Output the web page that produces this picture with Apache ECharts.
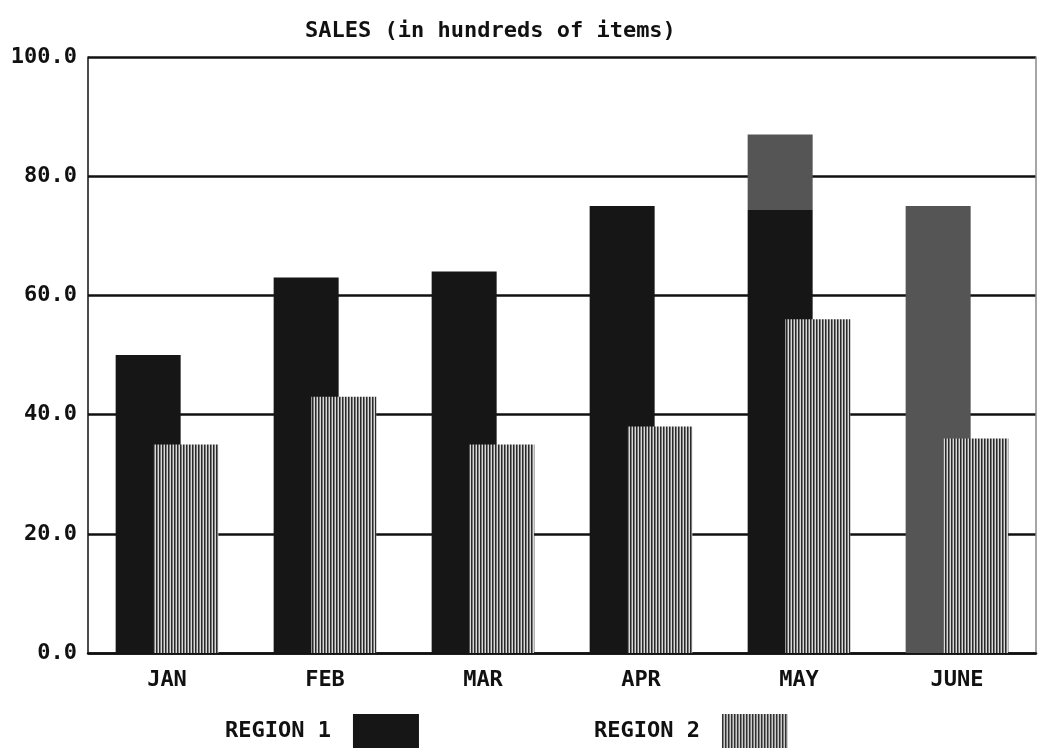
<!DOCTYPE html>
<html>
<head>
<meta charset="utf-8">
<script src="https://cdn.jsdelivr.net/npm/echarts@6/dist/echarts.min.js"></script>
<style>
html,body{margin:0;padding:0;background:#fff;}
#c{width:1044px;height:753px;}
</style>
</head>
<body>
<div id="c"></div>
<script>
const categories = ['JAN', 'FEB', 'MAR', 'APR', 'MAY', 'JUNE'];
const region1 = [50, 63, 64, 75, 87, 75];
const region2 = [35, 43, 35, 38, 56, 36];
const seriesNames = ['REGION 1', 'REGION 2'];
const titleText = 'SALES (in hundreds of items)';

const FONT = '"DejaVu Sans Mono", "Liberation Mono", monospace';
const BLACK = '#161616';
const GRAY = '#555555';

// vertical stripe pattern for region 2
const pat = document.createElement('canvas');
pat.width = 3; pat.height = 8;
const pctx = pat.getContext('2d');
pctx.fillStyle = '#d8d8d8'; pctx.fillRect(0, 0, 3, 8);
pctx.fillStyle = '#2a2a2a'; pctx.fillRect(0, 0, 1, 8);
pctx.fillStyle = '#7a7a7a'; pctx.fillRect(1, 0, 1, 8);

const mayGradient = {
  type: 'linear', x: 0, y: 0, x2: 0, y2: 1,
  colorStops: [
    {offset: 0, color: GRAY}, {offset: 0.146, color: GRAY},
    {offset: 0.146, color: BLACK}, {offset: 1, color: BLACK}
  ]
};

const r1Data = region1.map((v, i) => {
  if (categories[i] === 'MAY') return {value: v, itemStyle: {color: mayGradient}};
  if (categories[i] === 'JUNE') return {value: v, itemStyle: {color: GRAY}};
  return v;
});

const chart = echarts.init(document.getElementById('c'), null, {renderer: 'canvas'});
chart.setOption({
  animation: false,
  backgroundColor: '#ffffff',
  title: {
    text: titleText,
    left: 300, top: 15,
    textStyle: {fontFamily: FONT, fontSize: 22, fontWeight: 'bold', color: '#111'}
  },
  legend: {
    bottom: 0, left: 220,
    itemGap: 175,
    itemWidth: 66, itemHeight: 34,
    align: 'right',
    icon: 'rect',
    textStyle: {fontFamily: FONT, fontSize: 22, fontWeight: 'bold', color: '#111', padding: [0, 17, 0, 0]},
    data: seriesNames
  },
  grid: {left: 88, right: 8, top: 57, bottom: 100},
  xAxis: {
    type: 'category',
    data: categories,
    axisLine: {show: true, lineStyle: {color: '#111', width: 2.5}},
    axisTick: {show: false},
    axisLabel: {fontFamily: FONT, fontSize: 22, fontWeight: 'bold', color: '#111', margin: 16}
  },
  yAxis: [
    {
      type: 'value',
      min: 0, max: 100, interval: 20,
      axisLine: {show: true, lineStyle: {color: '#111', width: 1.5}},
      axisTick: {show: false},
      splitLine: {show: true, lineStyle: {color: '#111', width: 2.5}},
      axisLabel: {
        fontFamily: FONT, fontSize: 22, fontWeight: 'bold', color: '#111', margin: 11,
        formatter: v => v.toFixed(1)
      }
    },
    {
      type: 'value', position: 'right',
      min: 0, max: 100, interval: 20,
      axisLine: {show: true, lineStyle: {color: '#888', width: 1.5}},
      axisTick: {show: false},
      splitLine: {show: false},
      axisLabel: {show: false}
    }
  ],
  series: [
    {
      name: seriesNames[0], type: 'bar', data: r1Data,
      barWidth: 65, barGap: '-42%',
      itemStyle: {color: BLACK}
    },
    {
      name: seriesNames[1], type: 'bar', data: region2,
      barWidth: 65, barGap: '-42%',
      itemStyle: {color: {image: pat, repeat: 'repeat'}}
    }
  ]
});
</script>
</body>
</html>
